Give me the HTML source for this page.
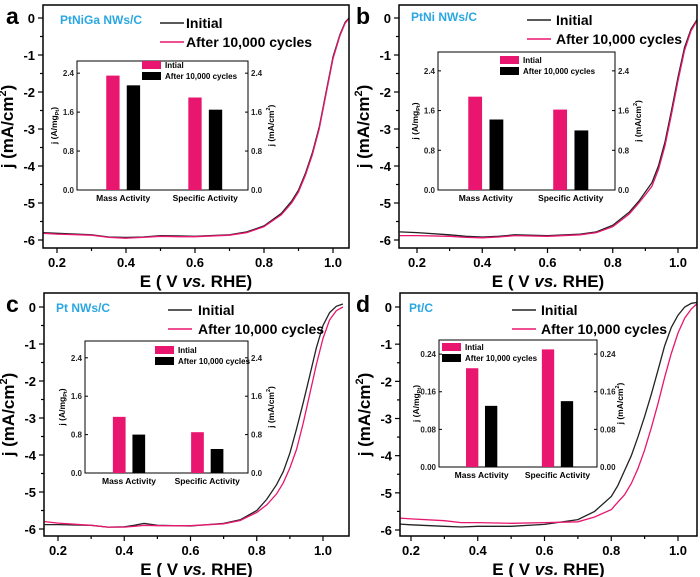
<!DOCTYPE html>
<html><head><meta charset="utf-8"><style>
html,body{margin:0;padding:0;background:#fff;}
svg{display:block;font-family:"Liberation Sans",Arial,sans-serif;font-weight:bold;}
</style></head><body>
<svg id="fig" width="700" height="577" viewBox="0 0 700 577" xmlns="http://www.w3.org/2000/svg"></svg>
<script>
// ---- data ----
const panelLetters = ['a','b','c','d'];
const sampleNames = ['PtNiGa NWs/C','PtNi NWs/C','Pt NWs/C','Pt/C'];
const seriesNames = ['Initial','After 10,000 cycles'];
const barCategories = ['Mass Activity','Specific Activity'];
const barLegend = ['Intial','After 10,000 cycles'];
const xTicks = [0.2,0.4,0.6,0.8,1.0];
const yTicks = [0,-1,-2,-3,-4,-5,-6];
// LSV curves (E in V, j in mA/cm2)
const aE = [0.16,0.2,0.3,0.35,0.4,0.45,0.5,0.55,0.6,0.7,0.75,0.8,0.85,0.88,0.9,0.92,0.94,0.96,0.98,1.0,1.02,1.035,1.05,1.06];
const aInit = [-5.8,-5.82,-5.86,-5.92,-5.93,-5.92,-5.88,-5.89,-5.9,-5.86,-5.78,-5.62,-5.28,-4.95,-4.65,-4.2,-3.65,-2.95,-2.0,-1.05,-0.45,-0.12,0.04,0.05];
const aAfter = [-5.82,-5.84,-5.87,-5.93,-5.95,-5.93,-5.9,-5.91,-5.91,-5.87,-5.8,-5.64,-5.32,-5.0,-4.7,-4.25,-3.7,-3.0,-2.05,-1.1,-0.48,-0.14,0.03,0.05];
const bE = [0.147,0.2,0.3,0.35,0.4,0.45,0.5,0.6,0.7,0.75,0.8,0.85,0.88,0.9,0.92,0.94,0.96,0.98,1.0,1.02,1.04,1.06];
const bInit = [-5.78,-5.8,-5.86,-5.9,-5.92,-5.9,-5.86,-5.88,-5.84,-5.78,-5.6,-5.25,-4.95,-4.7,-4.45,-4.0,-3.35,-2.5,-1.6,-0.8,-0.3,-0.02];
const bAfter = [-5.88,-5.88,-5.9,-5.93,-5.94,-5.92,-5.88,-5.9,-5.86,-5.8,-5.64,-5.3,-5.0,-4.78,-4.55,-4.1,-3.45,-2.6,-1.7,-0.88,-0.35,-0.04];
const cE = [0.16,0.2,0.3,0.35,0.4,0.43,0.46,0.5,0.6,0.7,0.75,0.8,0.83,0.86,0.88,0.9,0.92,0.94,0.96,0.98,1.0,1.02,1.04,1.06];
const cInit = [-5.88,-5.88,-5.9,-5.95,-5.94,-5.9,-5.85,-5.9,-5.92,-5.85,-5.75,-5.5,-5.2,-4.8,-4.45,-3.95,-3.3,-2.6,-1.85,-1.1,-0.5,-0.15,0.02,0.08];
const cAfter = [-5.8,-5.84,-5.9,-5.95,-5.95,-5.93,-5.9,-5.91,-5.91,-5.86,-5.77,-5.55,-5.35,-5.05,-4.75,-4.35,-3.85,-3.15,-2.35,-1.55,-0.85,-0.35,-0.1,0.0];
const dE = [0.167,0.2,0.3,0.35,0.4,0.5,0.6,0.7,0.75,0.8,0.82,0.84,0.86,0.88,0.9,0.92,0.94,0.96,0.98,1.0,1.02,1.04,1.056];
const dInit = [-5.84,-5.86,-5.9,-5.92,-5.9,-5.9,-5.85,-5.72,-5.5,-5.1,-4.8,-4.4,-4.0,-3.5,-2.95,-2.35,-1.7,-1.05,-0.55,-0.22,0.0,0.1,0.12];
const dAfter = [-5.68,-5.7,-5.75,-5.8,-5.8,-5.82,-5.8,-5.78,-5.65,-5.45,-5.25,-5.05,-4.75,-4.35,-3.85,-3.25,-2.6,-1.9,-1.25,-0.7,-0.3,-0.05,0.08];
// inset bar values: [mass, specific]
const barInitA = [2.35,1.9],  barAfterA = [2.15,1.65];
const barInitB = [1.88,1.62], barAfterB = [1.42,1.2];
const barInitC = [1.17,0.85], barAfterC = [0.8,0.5];
const barInitD = [0.21,0.25], barAfterD = [0.13,0.14];
const insetTicksABC = [0.0,0.8,1.6,2.4];
const insetTicksD = [0.00,0.08,0.16,0.24];

const NS='http://www.w3.org/2000/svg';
const svg=document.getElementById('fig');
const PINK='#e8166f', BLUE='#2aa7e2';
function el(tag,attrs,parent,text){const e=document.createElementNS(NS,tag);for(const k in attrs)e.setAttribute(k,attrs[k]);if(text!==undefined)e.textContent=text;(parent||svg).appendChild(e);return e;}

const layout=[
 {L:43,R:349,T:5,B:248,x02:57,x10:333,y0:18,y6:240,letter:[6,24],sample:[60,24],leg:[160,186,23,42],inset:[77,248,61,190],imax:2.65,ticks:insetTicksABC,dec:1,E:aE,I:aInit,A:aAfter,bi:barInitA,ba:barAfterA,legBox:[142,61]},
 {L:399,R:697,T:5,B:248,x02:417,x10:678,y0:18,y6:240,letter:[356,24],sample:[411,21],leg:[527,556,20,39],inset:[438,615,52,190],imax:2.78,ticks:insetTicksABC,dec:1,E:bE,I:bInit,A:bAfter,bi:barInitB,ba:barAfterB,legBox:[500,56]},
 {L:44,R:349,T:293,B:536,x02:58,x10:323,y0:307,y6:529,letter:[6,312],sample:[56,312],leg:[168,198,310,329],inset:[85,248,341,473],imax:2.75,ticks:insetTicksABC,dec:1,E:cE,I:cInit,A:cAfter,bi:barInitC,ba:barAfterC,legBox:[155,346]},
 {L:400,R:697,T:293,B:536,x02:411,x10:678,y0:307,y6:530,letter:[356,312],sample:[409,312],leg:[512,541,310,329],inset:[439,597,340,467],imax:0.27,ticks:insetTicksD,dec:2,E:dE,I:dInit,A:dAfter,bi:barInitD,ba:barAfterD,legBox:[442,343]}
];

layout.forEach((p,pi)=>{
  const g=el('g',{});
  
  
  const xs=v=>p.x02+(v-0.2)*(p.x10-p.x02)/0.8;
  const ys=v=>p.y0+(-v)*(p.y6-p.y0)/6;
  const cp=el('clipPath',{id:'cp'+pi},g);el('rect',{x:p.L,y:p.T,width:p.R-p.L,height:p.B-p.T},cp);
  [[p.I,'#222'],[p.A,PINK]].forEach((s,si)=>{
    const d=p.E.map((e,i)=>(i?'L':'M')+xs(e).toFixed(1)+','+ys(s[0][i]).toFixed(1)).join(' ');
    const path=el('path',{d:d,fill:'none',stroke:s[1],'stroke-width':1.3,'clip-path':'url(#cp'+pi+')'},g);
    
    
  });
  const fr=el('rect',{x:p.L,y:p.T,width:p.R-p.L,height:p.B-p.T,fill:'none',stroke:'#000','stroke-width':1.5},g);
  
  
  for(let v=0.2;v<=1.101;v+=0.1){const x=xs(v);if(x<p.L||x>p.R)continue;const maj=Math.abs(v*10%2)<0.01||Math.abs(v*10%2-2)<0.01;el('line',{x1:x,x2:x,y1:p.B,y2:p.B+(maj?5:3),stroke:'#000','stroke-width':1.2},g);}
  xTicks.forEach(v=>{const t=el('text',{x:xs(v),y:p.B+19,'font-size':13,'text-anchor':'middle'},g,v.toFixed(1));});
  for(let v=0;v>=-6.01;v-=0.5){const y=ys(v);el('line',{x1:p.L,x2:p.L-(Math.abs(v%1)<0.01?5:3),y1:y,y2:y,stroke:'#000','stroke-width':1.2},g);}
  yTicks.forEach(v=>{const t=el('text',{x:p.L-8,y:ys(v)+5,'font-size':13,'text-anchor':'end'},g,String(v));});
  const xt=el('text',{x:(p.L+p.R)/2,y:p.B+39,'font-size':17,'text-anchor':'middle'},g);
  xt.innerHTML='E ( V <tspan font-style="italic">vs.</tspan> RHE)';
  
  const yt=el('text',{transform:`translate(${p.L-30},${(p.T+p.B)/2}) rotate(-90)`,'font-size':17,'text-anchor':'middle'},g);
  yt.innerHTML='j (mA/cm<tspan font-size="11" dy="-7">2</tspan><tspan dy="7">)</tspan>';
  
  const lt=el('text',{x:p.letter[0],y:p.letter[1],'font-size':23},g,panelLetters[pi]);
  
  const sn=el('text',{x:p.sample[0],y:p.sample[1],'font-size':12,fill:BLUE},g,sampleNames[pi]);
  
  seriesNames.forEach((n,i)=>{const y=p.leg[2+i];
    el('line',{x1:p.leg[0],x2:p.leg[0]+24,y1:y,y2:y,stroke:i?PINK:'#222','stroke-width':1.5},g);
    const t=el('text',{x:p.leg[1],y:y+5,'font-size':14},g,n);
    });
  const [iL,iR,iT,iB]=p.inset, iw=iR-iL;
  const ig=el('g',{},g);
  
  el('rect',{x:iL,y:iT,width:iw,height:iB-iT,fill:'#fff',stroke:'#000','stroke-width':1},ig);
  const iy=v=>iB-v*(iB-iT)/p.imax;
  p.ticks.forEach(v=>{const y=iy(v);
    el('line',{x1:iL,x2:iL+3,y1:y,y2:y,stroke:'#000'},ig);el('line',{x1:iR,x2:iR-3,y1:y,y2:y,stroke:'#000'},ig);
    el('text',{x:iL-3,y:y+3,'font-size':8,'text-anchor':'end',fill:'#222'},ig,v.toFixed(p.dec));
    el('text',{x:iR+3,y:y+3,'font-size':8,fill:'#222'},ig,v.toFixed(p.dec));});
  const centers=[0.27,0.75], bw=0.078*iw;
  barCategories.forEach((c,ci)=>{const cx=iL+centers[ci]*iw;
    [[p.bi[ci],PINK,-1],[p.ba[ci],'#000',1]].forEach((b,k)=>{
      const r=el('rect',{x:cx+b[2]*0.06*iw-bw/2,y:iy(b[0]),width:bw,height:iB-iy(b[0]),fill:b[1]},ig);
      });
    const t=el('text',{x:cx,y:iB+11,'font-size':8.5,'text-anchor':'middle'},ig,c);
    
  });
  barLegend.forEach((n,i)=>{const x=p.legBox[0],y=p.legBox[1]+i*11;
    el('rect',{x:x,y:y,width:19,height:8,fill:i?'#000':PINK},ig);
    el('text',{x:x+23,y:y+7,'font-size':8},ig,n);});
  const lyt=el('text',{transform:`translate(${iL-20},${(iT+iB)/2}) rotate(-90)`,'font-size':8.5,'text-anchor':'middle'},ig);
  lyt.innerHTML='j (A/mg<tspan font-size="5.5" dy="2">Pt</tspan><tspan dy="-2">)</tspan>';
  const ryt=el('text',{transform:`translate(${iR+26},${(iT+iB)/2}) rotate(-90)`,'font-size':8.5,'text-anchor':'middle'},ig);
  ryt.innerHTML='j (mA/cm<tspan font-size="5.5" dy="-4">2</tspan><tspan dy="4">)</tspan>';
});
</script>
</body></html>
